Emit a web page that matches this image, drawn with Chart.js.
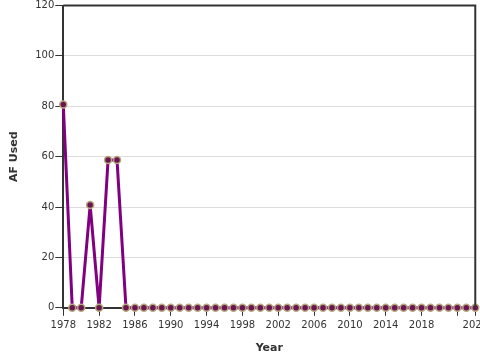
<!DOCTYPE html>
<html>
<head>
<meta charset="utf-8">
<script src="https://cdn.jsdelivr.net/npm/chart.js@4.4.1/dist/chart.umd.min.js"></script>
<style>
  html, body { margin: 0; padding: 0; background: #fff; overflow: hidden; width: 480px; height: 360px; }
  #wrap { position: absolute; left: 0; top: 0; }
</style>
</head>
<body>
<div id="wrap"><canvas id="c" width="492" height="360"></canvas></div>
<script>
const years = [];
for (let y = 1978; y <= 2024; y++) years.push(y);
const afUsed = [80.7, 0, 0, 40.8, 0, 58.7, 58.7,
  0, 0, 0, 0, 0, 0, 0, 0, 0, 0,
  0, 0, 0, 0, 0, 0, 0, 0, 0, 0,
  0, 0, 0, 0, 0, 0, 0, 0, 0, 0,
  0, 0, 0, 0, 0, 0, 0, 0, 0, 0];
const xTickValues = [1978, 1982, 1986, 1990, 1994, 1998, 2002, 2006, 2010, 2014, 2018, 2022, 2024];
const xTickLabels = ['1978', '1982', '1986', '1990', '1994', '1998', '2002', '2006', '2010', '2014', '2018', '', '2024'];
const yTickValues = [0, 20, 40, 60, 80, 100, 120];

const framePlugin = {
  id: 'frame',
  afterDraw(chart) {
    const a = chart.chartArea, ctx = chart.ctx;
    ctx.save();
    ctx.strokeStyle = '#333';
    ctx.lineWidth = 2;
    ctx.beginPath();
    ctx.moveTo(a.left, a.top);
    ctx.lineTo(a.right, a.top);
    ctx.lineTo(a.right, a.bottom);
    ctx.stroke();
    ctx.restore();
  }
};

new Chart(document.getElementById('c'), {
  type: 'line',
  data: {
    datasets: [{
      data: years.map((y, i) => ({ x: y, y: afUsed[i] })),
      borderColor: '#800080',
      borderWidth: 3,
      pointRadius: 3.5,
      pointBorderWidth: 1.5,
      pointBackgroundColor: '#6b1550',
      pointBorderColor: '#b5a880',
      tension: 0,
      clip: false
    }]
  },
  options: {
    responsive: false,
    animation: false,
    layout: { padding: { left: 4, top: 0, bottom: 1, right: 0 } },
    plugins: { legend: { display: false }, tooltip: { enabled: false } },
    scales: {
      x: {
        type: 'linear',
        min: 1978,
        max: 2024,
        afterBuildTicks: s => { s.ticks = xTickValues.map(v => ({ value: v })); },
        ticks: {
          autoSkip: false, maxRotation: 0, padding: 4,
          font: { family: 'DejaVu Sans', size: 10 }, color: '#333',
          callback: (v) => xTickLabels[xTickValues.indexOf(v)]
        },
        grid: { drawOnChartArea: false, drawTicks: true, tickLength: 8, tickColor: '#333', tickWidth: 1 },
        border: { color: '#333', width: 2 },
        title: { display: true, text: 'Year', font: { family: 'DejaVu Sans', size: 11, weight: 'bold' }, color: '#333', padding: { top: 6 } }
      },
      y: {
        min: 0,
        max: 120,
        afterBuildTicks: s => { s.ticks = yTickValues.map(v => ({ value: v })); },
        ticks: {
          padding: 1,
          font: { family: 'DejaVu Sans', size: 10, lineHeight: 0.7 }, color: '#333'
        },
        grid: { color: '#ddd', drawTicks: true, tickLength: 8, tickColor: '#333' },
        border: { color: '#333', width: 2 },
        title: { display: true, text: 'AF Used', font: { family: 'DejaVu Sans', size: 11, weight: 'bold' }, color: '#333', padding: { bottom: 13 } }
      }
    }
  },
  plugins: [framePlugin]
});
</script>
</body>
</html>
